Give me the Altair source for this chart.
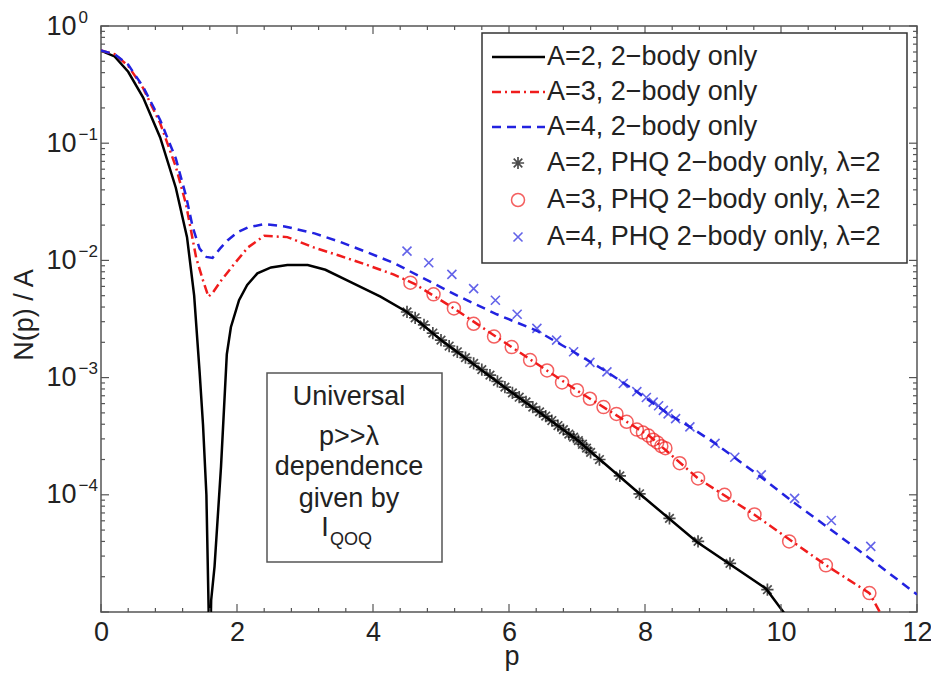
import altair as alt
import pandas as pd

# ---------------- data ----------------
# A=2, 2-body only (black solid)
a2_p = [0.00, 0.20, 0.40, 0.62, 0.87, 1.10, 1.265, 1.37, 1.45, 1.50, 1.55, 1.60, 1.62, 1.67,
        1.765, 1.85, 1.91, 2.03, 2.15, 2.30, 2.50, 2.74, 3.04, 3.30, 3.62, 4.11, 4.50, 5.00,
        5.93, 7.00, 7.92, 8.76, 9.78, 10.10]
a2_n = [0.617, 0.550, 0.407, 0.245, 0.112, 0.0417, 0.0158, 0.00501, 0.00112, 3.98e-4, 1.0e-4,
        3.2e-6, 1.26e-5, 2.45e-5, 1.74e-4, 1.58e-3, 2.69e-3, 4.57e-3, 6.17e-3, 7.76e-3, 8.71e-3,
        9.12e-3, 9.12e-3, 8.32e-3, 6.76e-3, 4.90e-3, 3.63e-3, 2.09e-3, 8.32e-4, 2.95e-4, 1.02e-4,
        3.98e-5, 1.58e-5, 8.9e-6]
# A=3, 2-body only (red dash-dot)
a3_p = [0.00, 0.20, 0.40, 0.62, 0.87, 1.10, 1.25, 1.40, 1.50, 1.58, 1.65, 1.77, 1.96, 2.16,
        2.40, 2.74, 3.13, 3.50, 3.87, 4.30, 4.61, 5.19, 6.04, 7.00, 8.07, 8.78, 9.61, 10.66,
        11.30, 11.55]
a3_n = [0.617, 0.575, 0.457, 0.295, 0.148, 0.0631, 0.0302, 0.0105, 6.76e-3, 4.90e-3, 5.37e-3,
        6.76e-3, 9.33e-3, 0.0129, 0.0162, 0.0158, 0.0129, 0.0110, 9.33e-3, 7.59e-3, 6.31e-3,
        3.89e-3, 1.82e-3, 7.76e-4, 3.16e-4, 1.38e-4, 6.76e-5, 2.51e-5, 1.45e-5, 7.9e-6]
# A=4, 2-body only (blue dashed)
a4_p = [0.00, 0.20, 0.40, 0.62, 0.87, 1.10, 1.25, 1.35, 1.45, 1.55, 1.64, 1.75, 1.86, 2.01,
        2.16, 2.40, 2.70, 3.14, 3.50, 3.87, 4.30, 4.70, 5.24, 5.82, 6.41, 6.95, 7.44, 7.88,
        8.34, 8.66, 9.03, 9.71, 10.20, 10.74, 11.32, 12.00]
a4_n = [0.617, 0.575, 0.468, 0.302, 0.158, 0.0741, 0.0355, 0.0191, 0.0126, 0.0107, 0.0105,
        0.0126, 0.0148, 0.0174, 0.0191, 0.0204, 0.0195, 0.0170, 0.0145, 0.0120, 9.55e-3,
        7.24e-3, 5.01e-3, 3.47e-3, 2.51e-3, 1.66e-3, 1.12e-3, 7.59e-4, 4.90e-4, 3.80e-4,
        2.75e-4, 1.41e-4, 8.51e-5, 5.01e-5, 2.82e-5, 1.41e-5]

# PHQ points
phq2_p = [4.50, 4.62, 4.75, 4.88, 5.00, 5.12, 5.24, 5.36, 5.48, 5.60, 5.72, 5.83, 5.94, 6.05,
          6.15, 6.25, 6.35, 6.45, 6.54, 6.63, 6.72, 6.80, 6.88, 6.95, 7.02, 7.08, 7.14, 7.20,
          7.33, 7.63, 7.92, 8.36, 8.78, 9.25, 9.80]
phq2_n = [3.63e-3, 3.24e-3, 2.82e-3, 2.40e-3, 2.09e-3, 1.86e-3, 1.66e-3, 1.48e-3, 1.32e-3,
          1.17e-3, 1.05e-3, 9.3e-4, 8.3e-4, 7.4e-4, 6.8e-4, 6.2e-4, 5.6e-4, 5.1e-4, 4.7e-4,
          4.3e-4, 3.9e-4, 3.6e-4, 3.3e-4, 3.1e-4, 2.9e-4, 2.7e-4, 2.5e-4, 2.3e-4, 2.0e-4,
          1.45e-4, 1.02e-4, 6.3e-5, 4.0e-5, 2.6e-5, 1.55e-5]
phq3_p = [4.55, 4.89, 5.19, 5.48, 5.78, 6.04, 6.31, 6.56, 6.78, 7.00, 7.19, 7.39, 7.58, 7.73,
          7.88, 7.97, 8.05, 8.12, 8.18, 8.24, 8.30, 8.51, 8.78, 9.17, 9.61, 10.12, 10.66, 11.30]
phq3_n = [6.46e-3, 5.13e-3, 3.89e-3, 2.88e-3, 2.24e-3, 1.82e-3, 1.41e-3, 1.15e-3, 9.1e-4,
          7.8e-4, 6.6e-4, 5.6e-4, 4.9e-4, 4.2e-4, 3.6e-4, 3.4e-4, 3.2e-4, 2.95e-4, 2.8e-4,
          2.6e-4, 2.5e-4, 1.86e-4, 1.38e-4, 1.0e-4, 6.8e-5, 4.0e-5, 2.5e-5, 1.45e-5]
phq4_p = [4.50, 4.82, 5.16, 5.48, 5.80, 6.12, 6.41, 6.70, 6.95, 7.19, 7.44, 7.68, 7.88, 8.02,
          8.12, 8.20, 8.27, 8.34, 8.45, 8.66, 9.03, 9.32, 9.71, 10.20, 10.74, 11.32]
phq4_n = [0.0120, 9.55e-3, 7.59e-3, 5.75e-3, 4.57e-3, 3.47e-3, 2.63e-3, 2.09e-3, 1.66e-3,
          1.35e-3, 1.12e-3, 8.91e-4, 7.59e-4, 6.76e-4, 6.17e-4, 5.75e-4, 5.25e-4, 4.90e-4,
          4.47e-4, 3.80e-4, 2.75e-4, 2.09e-4, 1.48e-4, 9.33e-5, 6.03e-5, 3.63e-5]

legend_labels = ["A=2, 2\u2212body only", "A=3, 2\u2212body only", "A=4, 2\u2212body only",
                 "A=2, PHQ 2\u2212body only, \u03bb=2", "A=3, PHQ 2\u2212body only, \u03bb=2",
                 "A=4, PHQ 2\u2212body only, \u03bb=2"]
box_lines = ["Universal", "p>>\u03bb", "dependence", "given by"]

x_major = [0, 2, 4, 6, 8, 10, 12]
x_minor = [0.4, 0.8, 1.2, 1.6, 2.4, 2.8, 3.2, 3.6, 4.4, 4.8, 5.2, 5.6, 6.4, 6.8, 7.2, 7.6,
           8.4, 8.8, 9.2, 9.6, 10.4, 10.8, 11.2, 11.6]
y_major = [1, 1e-1, 1e-2, 1e-3, 1e-4, 1e-5]
y_labeled = [1, 1e-1, 1e-2, 1e-3, 1e-4]
y_minor = [m * d for d in [1e-1, 1e-2, 1e-3, 1e-4, 1e-5] for m in range(2, 10)]

# ---------------- chart ----------------
W, H = 816, 586
FONT = "Liberation Sans"
FS = 27
RED = "#f01c1c"
BLUE = "#2222e0"
TICK = "#555555"
xs = alt.Scale(domain=[0, 12], nice=False, zero=False)
ys = alt.Scale(type="log", domain=[1e-5, 1], nice=False)


def df(p, n):
    return pd.DataFrame({"p": p, "n": n})


def enc(xaxis=None, yaxis=None):
    return dict(x=alt.X("p:Q", scale=xs, axis=xaxis), y=alt.Y("n:Q", scale=ys, axis=yaxis))


x_main = alt.Axis(orient="bottom", values=x_major, ticks=False, tickSize=0, domain=False,
                  grid=False, labelFontSize=FS, labelFont=FONT, labelColor="#222",
                  labelPadding=7, labelFlush=False, title=None, format="d")
y_base = alt.Axis(orient="left", values=y_labeled, ticks=False, tickSize=0, domain=False,
                  grid=False, labelExpr="'10'", labelFontSize=FS, labelFont=FONT,
                  labelColor="#222", labelPadding=25, labelFlush=False, labelOverlap=False,
                  title=None)
y_exp = alt.Axis(orient="left", values=y_labeled, ticks=False, tickSize=0, domain=False,
                 grid=False,
                 labelExpr="datum.value >= 1 ? '0' : '\u2212' + format(round(-log(datum.value) / LN10), 'd')",
                 labelFontSize=17, labelFont=FONT, labelColor="#222", labelAlign="left",
                 labelPadding=23, labelOffset=-9, labelFlush=False, labelOverlap=False,
                 title=None)

base = df(a2_p, a2_n)

line2 = alt.Chart(df(a2_p, a2_n)).mark_line(color="black", strokeWidth=2.5, clip=True).encode(
    **enc(x_main, y_base))
line3 = alt.Chart(df(a3_p, a3_n)).mark_line(color=RED, strokeWidth=2.5, strokeDash=[9, 4, 2, 4],
                                            clip=True).encode(**enc())
line4 = alt.Chart(df(a4_p, a4_n)).mark_line(color=BLUE, strokeWidth=2.5, strokeDash=[9, 6],
                                            clip=True).encode(**enc())

exp_layer = alt.Chart(base).mark_point(opacity=0).encode(**enc(None, y_exp))


# inward tick marks on all four sides, placed through the chart's scales
def xticks(values, size):
    d = pd.DataFrame({"v": values})
    out = []
    for y0, y1 in [(H - size, H), (0, size)]:
        out.append(alt.Chart(d).mark_rule(color=TICK, strokeWidth=1.2).encode(
            x=alt.X("v:Q", scale=xs, axis=None), y=alt.value(y0), y2=alt.value(y1)))
    return out


def yticks(values, size):
    d = pd.DataFrame({"v": values})
    out = []
    for x0, x1 in [(0, size), (W - size, W)]:
        out.append(alt.Chart(d).mark_rule(color=TICK, strokeWidth=1.2).encode(
            y=alt.Y("v:Q", scale=ys, axis=None), x=alt.value(x0), x2=alt.value(x1)))
    return out


ticks = xticks(x_major, 8) + xticks(x_minor, 4) + yticks(y_major, 8) + yticks(y_minor, 4)

STAR = "M-1,0L1,0M0,-1L0,1M-0.7,-0.7L0.7,0.7M-0.7,0.7L0.7,-0.7"
XMARK = "M-1,-1L1,1M-1,1L1,-1"

pts2 = alt.Chart(df(phq2_p, phq2_n)).mark_point(shape=STAR, filled=False, size=150, color="black",
                                                strokeWidth=1.7).encode(**enc())
pts3 = alt.Chart(df(phq3_p, phq3_n)).mark_point(shape="circle", filled=False, size=169, color=RED,
                                                strokeWidth=1.5).encode(**enc())
pts4 = alt.Chart(df(phq4_p, phq4_n)).mark_point(shape=XMARK, filled=False, size=81, color=BLUE,
                                                strokeWidth=1.6).encode(**enc())

one = pd.DataFrame({"k": [0]})


def txt(s, x, y, size=FS, angle=0, align="center", baseline="middle"):
    return alt.Chart(one).mark_text(text=s, fontSize=size, font=FONT, angle=angle, align=align,
                                    baseline=baseline, color="#222").encode(
        x=alt.value(x), y=alt.value(y))


# legend
rows_y = [31, 66, 101, 137, 174, 211]
legend = [alt.Chart(one).mark_rect(fill="white", stroke="#333", strokeWidth=1.5).encode(
    x=alt.value(381), x2=alt.value(806), y=alt.value(7), y2=alt.value(237))]
styles = [("black", []), (RED, [9, 4, 2, 4]), (BLUE, [9, 6])]
for (col, dash), yy in zip(styles, rows_y[:3]):
    legend.append(alt.Chart(one).mark_rule(color=col, strokeWidth=2.5, strokeDash=dash).encode(
        x=alt.value(391), x2=alt.value(444), y=alt.value(yy)))
marks = [(STAR, "black", 150, 1.7), ("circle", RED, 169, 1.5), (XMARK, BLUE, 81, 1.6)]
for (shp, col, sz, sw), yy in zip(marks, rows_y[3:]):
    legend.append(alt.Chart(one).mark_point(shape=shp, filled=False, size=sz, color=col,
                                            strokeWidth=sw).encode(x=alt.value(417), y=alt.value(yy)))
for lab, yy in zip(legend_labels, rows_y):
    legend.append(txt(lab, 446, yy, align="left"))

# annotation box
note = [alt.Chart(one).mark_rect(fill="white", stroke="#555", strokeWidth=1.5).encode(
    x=alt.value(166), x2=alt.value(341), y=alt.value(347), y2=alt.value(536))]
for s, yy in zip(box_lines, [371, 411, 441, 473]):
    note.append(txt(s, 248, yy))
note.append(txt("I", 224, 502, align="center"))
note.append(txt("QOQ", 229, 514, size=18, align="left"))

titles = [txt("p", 411, 639, baseline="alphabetic"), txt("N(p) / A", -76, 289, angle=270)]

chart = alt.layer(
    line2, exp_layer, *ticks, line3, line4, pts2, pts3, pts4, *legend, *note, *titles
).properties(
    width=W, height=H,
    padding={"left": 93, "top": 18, "right": 14, "bottom": 60},
    autosize=alt.AutoSizeParams(type="none"),
).resolve_axis(x="independent", y="independent").configure(
    font=FONT, view=alt.ViewConfig(stroke="#555", strokeWidth=1.5)
)

chart.save("out.html", embed_options={"renderer": "svg", "actions": False})
